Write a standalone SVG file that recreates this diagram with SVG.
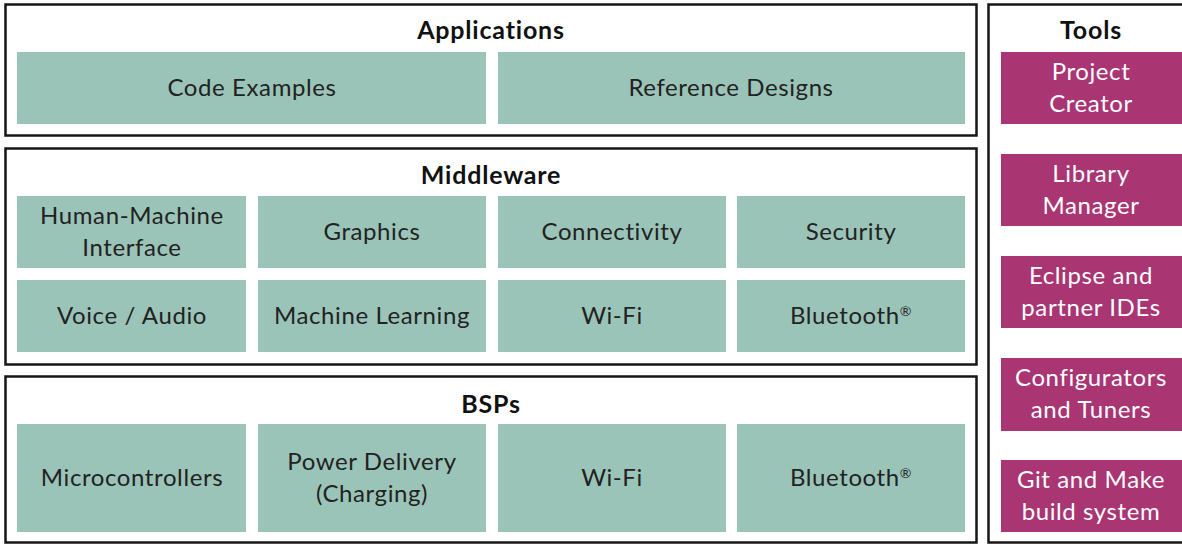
<svg xmlns="http://www.w3.org/2000/svg" width="1182" height="544" viewBox="0 0 1182 544">
<style>
.frame{fill:#fff;stroke:#161616;stroke-width:2.5}
.g{fill:#9BC4B8}
.p{fill:#A93573}
.t{font-family:Lato,"Open Sans",sans-serif;font-size:24px;letter-spacing:0.6px;fill:#222;text-anchor:middle}
.tw{font-family:Lato,"Open Sans",sans-serif;font-size:24px;letter-spacing:0.6px;fill:#fff;text-anchor:middle}
.h{font-family:Lato,"Open Sans",sans-serif;font-size:25px;letter-spacing:0.8px;font-weight:bold;fill:#111;text-anchor:middle}
.sup{font-size:14px}
</style>
<rect width="1182" height="544" fill="#fff"/>
<g id="applications">
<rect class="frame" x="5.5" y="4.5" width="971" height="131"/>
<text class="h" x="491" y="39">Applications</text>
</g>
<g id="code-examples"><rect class="g" x="17" y="52" width="469" height="72"/><text class="t" x="252" y="96">Code Examples</text></g>
<g id="reference-designs"><rect class="g" x="498" y="52" width="467" height="72"/><text class="t" x="731" y="96">Reference Designs</text></g>

<g id="middleware">
<rect class="frame" x="5.5" y="148.5" width="971" height="216"/>
<text class="h" x="491" y="184">Middleware</text>
</g>
<g id="hmi"><rect class="g" x="17" y="196" width="229" height="72"/><text class="t" x="132" y="224">Human-Machine</text><text class="t" x="132" y="256">Interface</text></g>
<g id="graphics"><rect class="g" x="258" y="196" width="228" height="72"/><text class="t" x="372" y="240">Graphics</text></g>
<g id="connectivity"><rect class="g" x="498" y="196" width="228" height="72"/><text class="t" x="612" y="240">Connectivity</text></g>
<g id="security"><rect class="g" x="737" y="196" width="228" height="72"/><text class="t" x="851" y="240">Security</text></g>
<g id="voice-audio"><rect class="g" x="17" y="280" width="229" height="72"/><text class="t" x="132" y="324">Voice / Audio</text></g>
<g id="machine-learning"><rect class="g" x="258" y="280" width="228" height="72"/><text class="t" x="372" y="324">Machine Learning</text></g>
<g id="mw-wifi"><rect class="g" x="498" y="280" width="228" height="72"/><text class="t" x="612" y="324">Wi-Fi</text></g>
<g id="mw-bluetooth"><rect class="g" x="737" y="280" width="228" height="72"/><text class="t" x="851" y="324">Bluetooth<tspan class="sup" dy="-8">®</tspan></text></g>

<g id="bsps">
<rect class="frame" x="5.5" y="376.5" width="971" height="166"/>
<text class="h" x="491" y="413">BSPs</text>
</g>
<g id="microcontrollers"><rect class="g" x="17" y="424" width="229" height="108"/><text class="t" x="132" y="486">Microcontrollers</text></g>
<g id="power-delivery"><rect class="g" x="258" y="424" width="228" height="108"/><text class="t" x="372" y="470">Power Delivery</text><text class="t" x="372" y="502">(Charging)</text></g>
<g id="bsp-wifi"><rect class="g" x="498" y="424" width="228" height="108"/><text class="t" x="612" y="486">Wi-Fi</text></g>
<g id="bsp-bluetooth"><rect class="g" x="737" y="424" width="228" height="108"/><text class="t" x="851" y="486">Bluetooth<tspan class="sup" dy="-8">®</tspan></text></g>

<g id="tools">
<rect class="frame" x="988.5" y="4.5" width="200" height="538"/>
<text class="h" x="1091" y="39">Tools</text>
</g>
<g id="project-creator"><rect class="p" x="1001" y="52" width="181" height="72"/><text class="tw" x="1091" y="80">Project</text><text class="tw" x="1091" y="112">Creator</text></g>
<g id="library-manager"><rect class="p" x="1001" y="154" width="181" height="72"/><text class="tw" x="1091" y="182">Library</text><text class="tw" x="1091" y="214">Manager</text></g>
<g id="eclipse"><rect class="p" x="1001" y="256" width="181" height="72"/><text class="tw" x="1091" y="284">Eclipse and</text><text class="tw" x="1091" y="316">partner IDEs</text></g>
<g id="configurators"><rect class="p" x="1001" y="358" width="181" height="73"/><text class="tw" x="1091" y="386">Configurators</text><text class="tw" x="1091" y="418">and Tuners</text></g>
<g id="git-make"><rect class="p" x="1001" y="460" width="181" height="72"/><text class="tw" x="1091" y="488">Git and Make</text><text class="tw" x="1091" y="520">build system</text></g>
<g id="connectors"></g>
</svg>
